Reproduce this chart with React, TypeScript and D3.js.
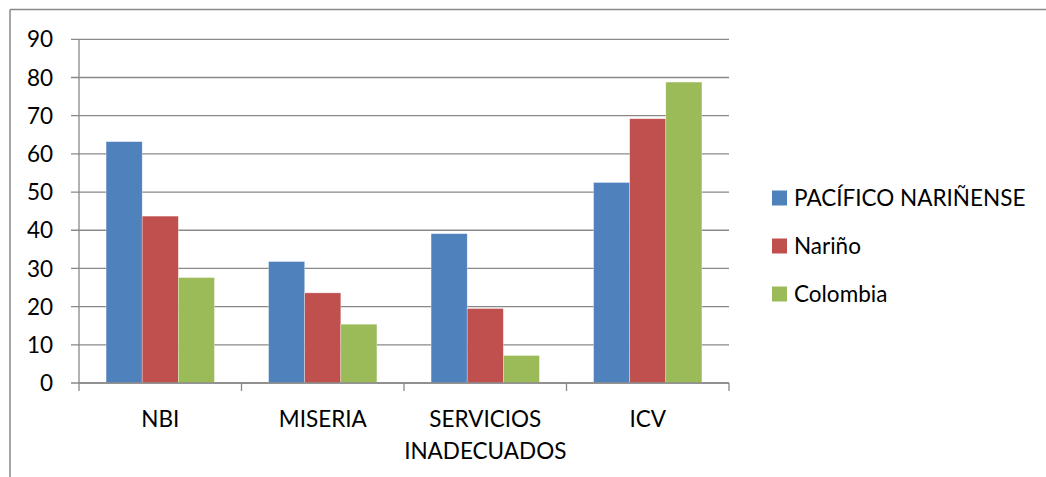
import React from "react";
import * as d3 from "d3";

const categories = ["NBI", "MISERIA", "SERVICIOS INADECUADOS", "ICV"];
const seriesNames = ["PACÍFICO NARIÑENSE", "Nariño", "Colombia"];
const pacifico = [63.2, 31.8, 39.1, 52.5];
const narino = [43.7, 23.6, 19.5, 69.2];
const colombia = [27.6, 15.4, 7.2, 78.8];
const yTicks = [0, 10, 20, 30, 40, 50, 60, 70, 80, 90];
const colors = ["#4F81BD", "#C0504D", "#9BBB59"];

const W = 1046;
const H = 477;
const left = 79;
const right = 729;
const top = 39.3;
const bottom = 383;
const FONT = "Lato, 'Open Sans', sans-serif";
const FS = 22.5;

export default function App() {
  const series = [pacifico, narino, colombia];
  const x = d3.scaleBand<string>().domain(categories).range([left, right]);
  const inner = d3
    .scaleBand<number>()
    .domain([0, 1, 2])
    .range([0, x.bandwidth()])
    .paddingInner(0)
    .paddingOuter(0.75);
  const y = d3.scaleLinear().domain([0, 90]).range([bottom, top]);
  const grid = "#898989";

  const catLines = (c: string) => {
    if (c === "SERVICIOS INADECUADOS") return ["SERVICIOS", "INADECUADOS"];
    return [c];
  };

  return (
    <svg
      width={W}
      height={H}
      style={{ position: "absolute", left: 0, top: 0, background: "#fff" }}
      fontFamily={FONT}
    >
      <rect x={0} y={0} width={W} height={H} fill="#fff" />
      {/* outer border */}
      <line x1={10} y1={9.5} x2={W} y2={9.5} stroke="#888" strokeWidth={1.5} />
      <line x1={10} y1={9.5} x2={10} y2={H} stroke="#888" strokeWidth={1.5} />

      {/* gridlines and y ticks */}
      {yTicks.map((t) => (
        <g key={t}>
          <line x1={71} x2={right} y1={y(t)} y2={y(t)} stroke={grid} strokeWidth={1.3} />
          <text
            x={53}
            y={y(t)}
            dy="0.36em"
            textAnchor="end"
            fontSize={FS}
            fill="#000"
          >
            {t}
          </text>
        </g>
      ))}
      {/* y axis */}
      <line x1={left} x2={left} y1={top} y2={bottom} stroke={grid} strokeWidth={1.3} />

      {/* bars */}
      {categories.map((c, ci) => (
        <g key={c}>
          {series.map((s, si) => (
            <rect
              key={si}
              x={(x(c) as number) + (inner(si) as number)}
              y={y(s[ci])}
              width={inner.bandwidth()}
              height={bottom - y(s[ci])}
              fill={colors[si]}
              stroke="rgba(255,255,255,0.5)"
              strokeWidth={0.6}
            />
          ))}
        </g>
      ))}

      {/* x axis */}
      <line x1={left} x2={right} y1={bottom} y2={bottom} stroke={grid} strokeWidth={1.3} />
      {categories.map((c) => (
        <line
          key={"t" + c}
          x1={x(c) as number}
          x2={x(c) as number}
          y1={bottom}
          y2={bottom + 8}
          stroke={grid}
          strokeWidth={1.3}
        />
      ))}
      <line x1={right} x2={right} y1={bottom} y2={bottom + 8} stroke={grid} strokeWidth={1.3} />

      {categories.map((c) => (
        <text
          key={"l" + c}
          x={(x(c) as number) + x.bandwidth() / 2}
          y={427}
          textAnchor="middle"
          fontSize={FS}
          fill="#000"
        >
          {catLines(c).map((line, i) => (
            <tspan key={i} x={(x(c) as number) + x.bandwidth() / 2} dy={i === 0 ? 0 : 32}>
              {line}
            </tspan>
          ))}
        </text>
      ))}

      {/* legend */}
      {seriesNames.map((n, i) => (
        <g key={n} transform={`translate(772, ${198 + i * 48})`}>
          <rect x={0} y={-7.5} width={15} height={15} fill={colors[i]} />
          <text x={22} y={0} dy="0.36em" fontSize={FS} fill="#000">
            {n}
          </text>
        </g>
      ))}
    </svg>
  );
}
